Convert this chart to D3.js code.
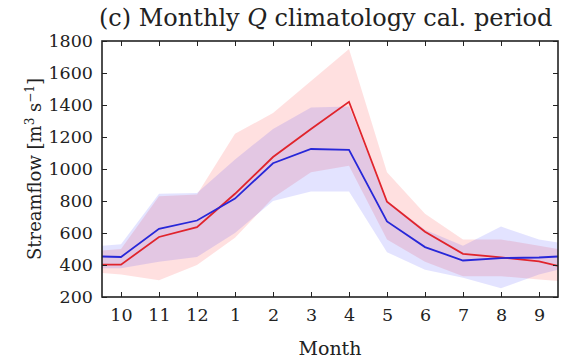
<!DOCTYPE html>
<html>
<head>
<meta charset="utf-8">
<script src="https://cdn.jsdelivr.net/npm/d3@7"></script>
<style>
  body { margin: 0; background: #fff; }
  svg text { font-family: "DejaVu Serif", "Liberation Serif", serif; fill: #222; }
</style>
</head>
<body>
<div id="chart"></div>
<script>
// month labels (water year, Oct -> Sep)
const months = ['10', '11', '12', '1', '2', '3', '4', '5', '6', '7', '8', '9'];
const yTicks = [200, 400, 600, 800, 1000, 1200, 1400, 1600, 1800];

// mean monthly streamflow (m3/s)
const redLine  = [402, 575, 637, 845, 1075, 1250, 1420, 795, 608, 470, 448, 422];
const blueLine = [450, 626, 678, 815, 1036, 1125, 1120, 672, 512, 428, 443, 447];
// values at the left / right frame edges
const redEnds  = [402, 395];
const blueEnds = [453, 453];

// spread bands
const redLo  = [340, 305, 400, 570, 820, 980, 1020, 560, 420, 330, 330, 310];
const redHi  = [500, 830, 840, 1220, 1350, 1550, 1750, 980, 720, 560, 560, 520];
const redLoEnds = [350, 300];
const redHiEnds = [490, 500];
const blueLo = [380, 420, 450, 600, 800, 860, 860, 480, 370, 320, 255, 340];
const blueHi = [530, 845, 850, 1060, 1250, 1385, 1390, 800, 620, 520, 640, 560];
const blueLoEnds = [380, 370];
const blueHiEnds = [520, 540];

const width = 562, height = 360;
const margin = { top: 41, right: 4, bottom: 63, left: 102 };
const w = width - margin.left - margin.right;
const h = height - margin.top - margin.bottom;

const svg = d3.select('#chart').append('svg')
    .attr('width', width)
    .attr('height', height);

const g = svg.append('g')
    .attr('transform', `translate(${margin.left},${margin.top})`);

const x = d3.scaleLinear().domain([-0.5, months.length - 0.5]).range([0, w]);
const y = d3.scaleLinear().domain([200, 1800]).range([h, 0]);

// add frame-edge points to a monthly series
function withEnds(vals, ends) {
  const pts = vals.map((v, i) => ({ x: i, v }));
  return [{ x: -0.5, v: ends[0] }, ...pts, { x: months.length - 0.5, v: ends[1] }];
}

g.append('clipPath').attr('id', 'clip')
  .append('rect').attr('width', w).attr('height', h);

const plot = g.append('g').attr('clip-path', 'url(#clip)');

const area = d3.area()
    .x(d => x(d.x))
    .y0(d => y(d.lo))
    .y1(d => y(d.hi));

function band(lo, loEnds, hi, hiEnds) {
  const a = withEnds(lo, loEnds), b = withEnds(hi, hiEnds);
  return a.map((d, i) => ({ x: d.x, lo: d.v, hi: b[i].v }));
}

plot.append('path')
    .datum(band(redLo, redLoEnds, redHi, redHiEnds))
    .attr('d', area)
    .attr('fill', 'rgb(255,0,0)')
    .attr('fill-opacity', 0.12);

plot.append('path')
    .datum(band(blueLo, blueLoEnds, blueHi, blueHiEnds))
    .attr('d', area)
    .attr('fill', 'rgb(0,0,255)')
    .attr('fill-opacity', 0.11);

const line = d3.line().x(d => x(d.x)).y(d => y(d.v));

plot.append('path')
    .datum(withEnds(redLine, redEnds))
    .attr('d', line)
    .attr('fill', 'none')
    .attr('stroke', '#e0242c')
    .attr('stroke-width', 1.8);

plot.append('path')
    .datum(withEnds(blueLine, blueEnds))
    .attr('d', line)
    .attr('fill', 'none')
    .attr('stroke', '#2727d8')
    .attr('stroke-width', 1.8);

// axes, ticks pointing inward (classic matplotlib look)
const fs = '17.5px';

const xAxis = g.append('g')
    .attr('transform', `translate(0,${h})`)
    .call(d3.axisBottom(x).tickValues(d3.range(months.length))
      .tickFormat(i => months[i]).tickSizeInner(-5).tickSizeOuter(0).tickPadding(12));
xAxis.selectAll('text').style('font-size', fs);

g.append('g')
    .call(d3.axisTop(x).tickValues(d3.range(months.length))
      .tickFormat('').tickSizeInner(-5).tickSizeOuter(0));

const yAxis = g.append('g')
    .call(d3.axisLeft(y).tickValues(yTicks).tickFormat(d3.format('d'))
      .tickSizeInner(-5).tickSizeOuter(0).tickPadding(9));
yAxis.selectAll('text').style('font-size', fs);

g.append('g')
    .attr('transform', `translate(${w},0)`)
    .call(d3.axisRight(y).tickValues(yTicks).tickFormat('')
      .tickSizeInner(-5).tickSizeOuter(0));

g.selectAll('.domain').remove();
g.selectAll('.tick line').attr('stroke', '#222').attr('stroke-width', 1);

g.append('rect')
    .attr('width', w).attr('height', h)
    .attr('fill', 'none')
    .attr('stroke', '#222')
    .attr('stroke-width', 1.6);

// title
const title = svg.append('text')
    .attr('x', 99)
    .attr('y', 26)
    .style('font-size', '24px');
title.append('tspan').text('(c) Monthly ');
title.append('tspan').style('font-style', 'italic').text('Q');
title.append('tspan').text(' climatology cal. period');

// axis labels
svg.append('text')
    .attr('x', margin.left + w / 2)
    .attr('y', 355)
    .attr('text-anchor', 'middle')
    .style('font-size', '19px')
    .text('Month');

const yl = svg.append('text')
    .attr('transform', `translate(41,${margin.top + h / 2}) rotate(-90)`)
    .attr('text-anchor', 'middle')
    .style('font-size', '18px');
yl.append('tspan').text('Streamflow [m');
yl.append('tspan').attr('baseline-shift', 'super').style('font-size', '12px').text('3');
yl.append('tspan').text(' s');
yl.append('tspan').attr('baseline-shift', 'super').style('font-size', '12px').text('\u22121');
yl.append('tspan').text(']');
</script>
</body>
</html>
